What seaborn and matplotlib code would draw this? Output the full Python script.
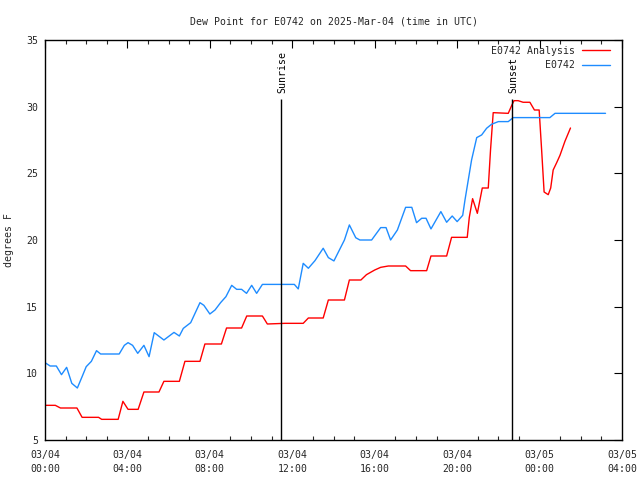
import matplotlib
matplotlib.use("Agg")
import matplotlib.pyplot as plt
import seaborn as sns
import pandas as pd
from matplotlib.ticker import MultipleLocator
from matplotlib.lines import Line2D

# ---- data (hours since 2025-03-04 00:00 UTC, dew point in F) ----
analysis_hours = [0.0, 0.5, 0.75, 1.55, 1.8, 2.6, 2.75, 3.55, 3.78, 4.03, 4.52, 4.8, 5.53, 5.77,
                  6.52, 6.79, 7.52, 7.76, 8.56, 8.81, 9.54, 9.79, 10.55, 10.79, 11.64, 12.53,
                  12.78, 13.5, 13.75, 14.53, 14.77, 15.33, 15.6, 16.0, 16.29, 16.66, 17.5, 17.74,
                  18.52, 18.73, 19.49, 19.73, 20.49, 20.59, 20.75, 20.98, 21.22, 21.51, 21.62,
                  21.75, 22.48, 22.65, 22.76, 22.96, 23.2, 23.53, 23.75, 23.98, 24.1, 24.22,
                  24.42, 24.54, 24.66, 24.83, 24.99, 25.23, 25.5]
analysis_values = [7.6, 7.6, 7.4, 7.4, 6.7, 6.7, 6.55, 6.55, 7.9, 7.3, 7.3, 8.6, 8.6, 9.4,
                   9.4, 10.9, 10.9, 12.2, 12.2, 13.4, 13.4, 14.3, 14.3, 13.7, 13.75, 13.75,
                   14.15, 14.15, 15.5, 15.5, 17.0, 17.0, 17.4, 17.75, 17.95, 18.05, 18.05, 17.7,
                   17.7, 18.8, 18.8, 20.2, 20.2, 21.7, 23.1, 22.0, 23.9, 23.9, 26.75,
                   29.55, 29.5, 30.1, 30.45, 30.45, 30.33, 30.33, 29.75, 29.75, 26.75, 23.6,
                   23.4, 23.9, 25.25, 25.8, 26.35, 27.4, 28.4]

obs_hours = [0.0, 0.25, 0.55, 0.8, 1.05, 1.3, 1.57, 1.8, 2.0, 2.25, 2.5, 2.7, 3.6, 3.85, 4.03,
             4.25, 4.5, 4.8, 5.05, 5.3, 5.77, 6.26, 6.52, 6.71, 7.07, 7.52, 7.71, 8.0, 8.25,
             8.52, 8.78, 9.06, 9.3, 9.54, 9.78, 10.03, 10.27, 10.55, 12.1, 12.29, 12.53, 12.78,
             13.1, 13.5, 13.75, 14.02, 14.53, 14.77, 15.08, 15.28, 15.85, 16.29, 16.55, 16.77,
             17.1, 17.5, 17.8, 18.03, 18.28, 18.49, 18.73, 19.21, 19.49, 19.76, 20.0, 20.27,
             20.38, 20.54, 20.7, 20.95, 21.19, 21.43, 21.67, 22.0, 22.48, 22.72, 24.5, 24.75, 27.2]
obs_values = [10.8, 10.55, 10.55, 9.9, 10.45, 9.25, 8.9, 9.75, 10.5, 10.9, 11.7, 11.45, 11.45,
              12.1, 12.3, 12.1, 11.5, 12.1, 11.25, 13.05, 12.5, 13.07, 12.8, 13.37, 13.8, 15.3,
              15.1, 14.45, 14.75, 15.3, 15.75, 16.6, 16.3, 16.3, 16.0, 16.6, 16.0, 16.67, 16.67,
              16.33, 18.25, 17.88, 18.45, 19.38, 18.68, 18.43, 20.0, 21.13, 20.17, 20.0, 20.0,
              20.93, 20.93, 20.0, 20.75, 22.45, 22.45, 21.3, 21.63, 21.63, 20.83, 22.13, 21.33,
              21.8, 21.38, 21.85, 23.0, 24.5, 26.0, 27.68, 27.88, 28.38, 28.68, 28.88, 28.88,
              29.18, 29.18, 29.5, 29.5]

series_names = ["E0742 Analysis", "E0742"]
sun_events = ["Sunrise", "Sunset"]
sun_hours = [11.46, 22.67]
sun_line_top = 30.55

x_tick_hours = [0, 4, 8, 12, 16, 20, 24, 28]
x_tick_labels = ["03/04\n00:00", "03/04\n04:00", "03/04\n08:00", "03/04\n12:00",
                 "03/04\n16:00", "03/04\n20:00", "03/05\n00:00", "03/05\n04:00"]
y_ticks = [5, 10, 15, 20, 25, 30, 35]

title = "Dew Point for E0742 on 2025-Mar-04 (time in UTC)"
y_label = "degrees F"

# ---- build long-form table ----
df = pd.concat([
    pd.DataFrame({"hour": analysis_hours, "value": analysis_values, "series": series_names[0]}),
    pd.DataFrame({"hour": obs_hours, "value": obs_values, "series": series_names[1]}),
], ignore_index=True)

sns.set_style("white")
plt.rcParams["font.family"] = ["DejaVu Sans Mono"]
FS = 7.1
plt.rcParams["font.size"] = FS

fig = plt.figure(figsize=(6.4, 4.8), dpi=100)
ax = fig.add_axes([45 / 640, 40 / 480, 577 / 640, 400 / 480])

colors = {series_names[0]: "#ff0000", series_names[1]: "#1e8cff"}
sns.lineplot(data=df, x="hour", y="value", hue="series", palette=colors,
             estimator=None, sort=False, linewidth=1.0, ax=ax, legend=False)

for name, h in zip(sun_events, sun_hours):
    ax.vlines(h, 5, sun_line_top, color="black", linewidth=1.0)
    ax.text(h + 0.05, sun_line_top + 0.45, name, rotation=90, ha="center", va="bottom",
            fontsize=FS, color="black")

ax.set_xlim(0, 28)
ax.set_ylim(5, 35)
ax.set_xticks(x_tick_hours)
ax.set_xticklabels(x_tick_labels, fontsize=FS, linespacing=1.55)
ax.xaxis.set_minor_locator(MultipleLocator(1))
ax.set_yticks(y_ticks)
ax.set_yticklabels([str(v) for v in y_ticks], fontsize=FS)
ax.tick_params(axis="both", which="major", direction="in", length=6, width=0.8,
               top=True, right=True, color="black")
ax.tick_params(axis="x", which="major", pad=7)
ax.tick_params(axis="y", which="major", pad=5)
ax.tick_params(axis="x", which="minor", direction="in", length=3, width=0.8,
               top=True, bottom=True)
ax.set_xlabel("")
ax.set_ylabel(y_label, fontsize=FS, labelpad=9)
ax.set_title(title, fontsize=FS, pad=11)
for s in ax.spines.values():
    s.set_color("black")
    s.set_linewidth(1.0)

handles = [Line2D([], [], color=colors[n], linewidth=1.0) for n in series_names]
ax.legend(handles, series_names, loc="upper right", frameon=False, markerfirst=False,
          fontsize=FS, handlelength=2.9, handletextpad=0.7, labelspacing=0.45,
          borderaxespad=0.2, bbox_to_anchor=(0.99, 1.0))

fig.savefig("out.png", dpi=100)
